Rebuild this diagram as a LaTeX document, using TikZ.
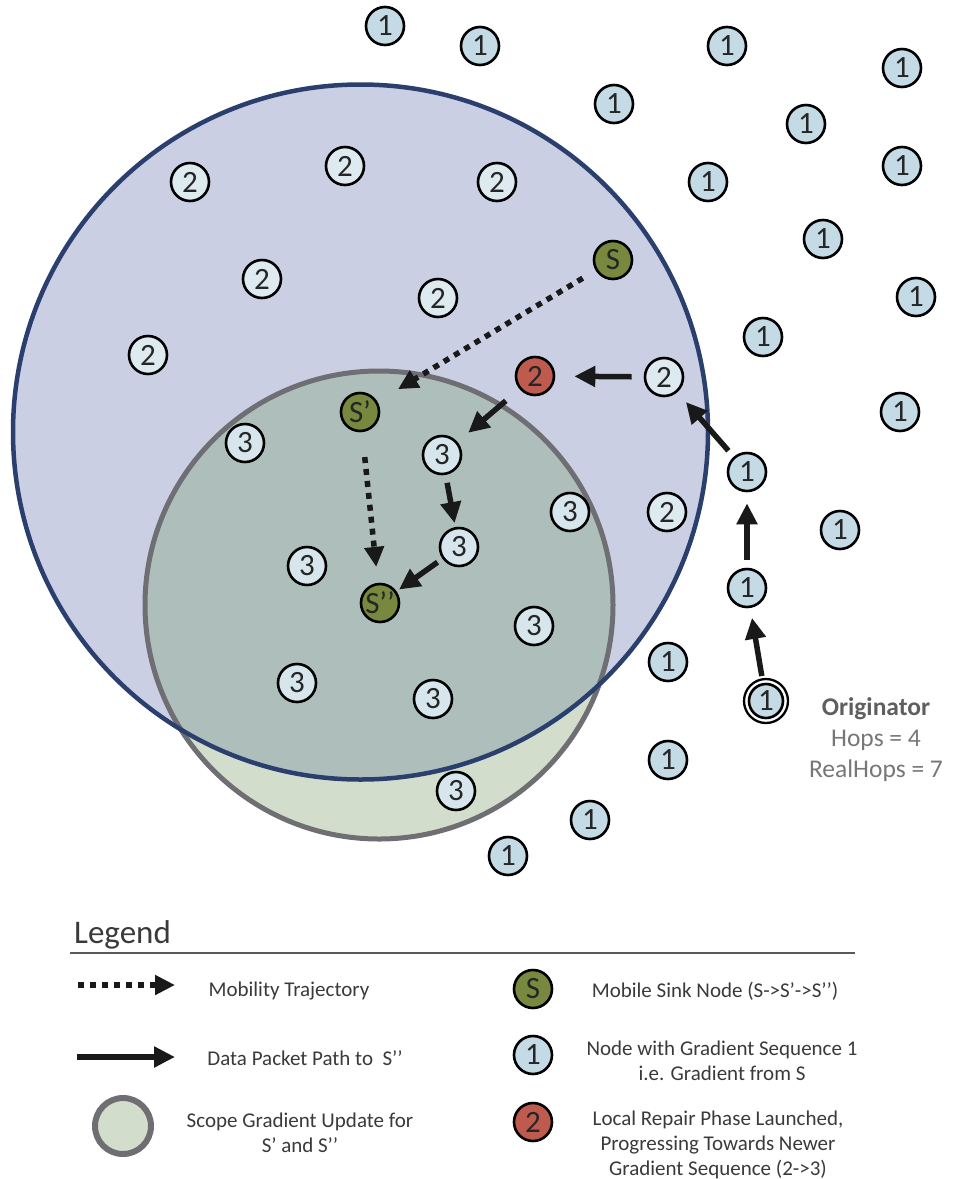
\documentclass[tikz,border=0pt]{standalone}
\usepackage{fontspec}
\setmainfont{Carlito}
\usetikzlibrary{arrows.meta}

\definecolor{bluezone}{HTML}{CACFE3}
\definecolor{bluerim}{HTML}{2B3F6E}
\definecolor{greenzone}{HTML}{D3DDCB}
\definecolor{overlapzone}{HTML}{ADBEBB}
\definecolor{greyrim}{HTML}{6E6E73}
\definecolor{nodeone}{HTML}{C4DAE4}
\definecolor{nodetwo}{HTML}{DDEAF0}
\definecolor{nodethree}{HTML}{D6E6EC}
\definecolor{sinkgreen}{HTML}{78893F}
\definecolor{repairred}{HTML}{BF5B4E}
\definecolor{labelgrey}{HTML}{5F5F5F}
\definecolor{labellight}{HTML}{777777}
\definecolor{legendtext}{HTML}{3A3A3A}

\begin{document}
\begin{tikzpicture}[x=1pt,y=-1pt,
  gnode/.style={circle, draw=black, line width=2.6pt, minimum size=38pt, inner sep=0pt,
    font=\fontsize{31}{31}\selectfont, text=black!85},
  one/.style={gnode, fill=nodeone},
  two/.style={gnode, fill=nodetwo},
  three/.style={gnode, fill=nodethree},
  sink/.style={gnode, fill=sinkgreen},
  repair/.style={gnode, fill=repairred},
  datapath/.style={draw=black!90, line width=5.5pt, -{Triangle[length=21pt,width=20pt]}},
  trajectory/.style={draw=black!90, line width=5.5pt, dash pattern=on 6pt off 6pt,
    -{Triangle[length=20pt,width=19pt]}},
  origlabel/.style={font=\fontsize{25.5}{25.5}\selectfont, inner sep=0pt},
  legendlabel/.style={font=\fontsize{21}{25}\selectfont, text=legendtext, align=center, inner sep=0pt},
]
\useasboundingbox (0,0) rectangle (954,1179);
\fill[white] (0,0) rectangle (954,1179);

% gradient scopes
\coordinate (bigc) at (360.5,432);
\coordinate (smallc) at (379,605);
\fill[bluezone] (bigc) circle[radius=347.5pt];
\fill[greenzone] (smallc) circle[radius=234pt];
\begin{scope}
  \clip (bigc) circle[radius=347.5pt];
  \fill[overlapzone] (smallc) circle[radius=234pt];
\end{scope}
\draw[greyrim, line width=5pt] (smallc) circle[radius=234pt];
\draw[bluerim, line width=4.5pt] (bigc) circle[radius=347.5pt];

% nodes with gradient sequence 1
\node[one] (o1)  at (385,26)  {1};
\node[one] (o2)  at (480,46)  {1};
\node[one] (o3)  at (727,46)  {1};
\node[one] (o4)  at (902,68)  {1};
\node[one] (o5)  at (614,104) {1};
\node[one] (o6)  at (806,124) {1};
\node[one] (o7)  at (902,166) {1};
\node[one] (o8)  at (708,182) {1};
\node[one] (o9)  at (823,239) {1};
\node[one] (o10) at (916,297) {1};
\node[one] (o11) at (763,337) {1};
\node[one] (o12) at (900,412) {1};
\node[one] (o13) at (747,472) {1};
\node[one] (o14) at (840,530) {1};
\node[one] (o15) at (747,588) {1};
\node[one] (o16) at (668,662) {1};
\node[one] (o17) at (668,760) {1};
\node[one] (o18) at (590,820) {1};
\node[one] (o19) at (508,856) {1};
\node[one, minimum size=34pt] (orig) at (766,701) {1};
\draw[black, line width=2.3pt] (orig.center) circle[radius=22pt];

% nodes with gradient sequence 2
\node[two] (t1) at (190,182) {2};
\node[two] (t2) at (345,166) {2};
\node[two] (t3) at (497,182) {2};
\node[two] (t4) at (262,279) {2};
\node[two] (t5) at (438,298) {2};
\node[two] (t6) at (148,355) {2};
\node[two] (t7) at (664,377) {2};
\node[two] (t8) at (667,512) {2};
\node[repair] (rp) at (535,376) {2};

% nodes with gradient sequence 3
\node[three] (h1) at (245,443) {3};
\node[three] (h2) at (442,455) {3};
\node[three] (h3) at (459,547) {3};
\node[three] (h4) at (570,512) {3};
\node[three] (h5) at (307,566) {3};
\node[three] (h6) at (534,626) {3};
\node[three] (h7) at (297,683) {3};
\node[three] (h8) at (433,699) {3};
\node[three] (h9) at (456,791) {3};

% mobile sink positions
\node[sink] (s0) at (613,260) {S};
\node[sink] (s1) at (360,412) {S’};
\node[sink] (s2) at (380,603) {S’’};

% sink trajectory
\draw[trajectory, shorten <=15pt, shorten >=24pt] (s0) -- (s1);
\draw[trajectory, shorten <=25pt, shorten >=16pt] (s1) -- (s2);

% data packet path
\draw[datapath, shorten <=7pt, shorten >=10pt] (orig) -- (o15);
\draw[datapath, shorten <=8pt, shorten >=11pt] (o15) -- (o13);
\draw[datapath, shorten <=8pt, shorten >=13pt] (o13) -- (t7);
\draw[datapath, shorten <=12pt, shorten >=19pt] (t7) -- (rp);
\draw[datapath, shorten <=18pt, shorten >=14pt] (rp) -- (h2);
\draw[datapath, shorten <=8pt, shorten >=4pt] (h2) -- (h3);
\draw[datapath, shorten <=6pt, shorten >=3pt] (h3) -- (s2);

% originator annotation
\node[origlabel, anchor=base, text=labelgrey] (origtitle) at (876,715) {\bfseries Originator};
\node[origlabel, anchor=base, text=labellight] (orighops) at (876,746) {Hops = 4};
\node[origlabel, anchor=base, text=labellight] (origreal) at (876,777) {RealHops = 7};

% legend
\node[anchor=base west, inner sep=0pt, font=\fontsize{33}{33}\selectfont, text=legendtext] (legtitle) at (74,943) {Legend};
\coordinate (ruleA) at (70,953);
\coordinate (ruleB) at (855,953);
\draw[black!65, line width=2.5pt] (ruleA) -- (ruleB);

\coordinate (ltrajA) at (78,985);
\coordinate (ltrajB) at (175,985);
\draw[trajectory] (ltrajA) -- (ltrajB);
\node[legendlabel] (ltrajtext) at (289,991) {Mobility Trajectory};

\coordinate (lpathA) at (77,1057);
\coordinate (lpathB) at (175,1057);
\draw[datapath, line width=6pt] (lpathA) -- (lpathB);
\node[legendlabel] (lpathtext) at (305,1058) {Data Packet Path to\ \ S’’};

\coordinate (lscope) at (123,1126);
\draw[greyrim, fill=greenzone, line width=6pt] (lscope) circle[radius=28pt];
\node[legendlabel] (lscopetext) at (300,1133) {Scope Gradient Update for\\S’ and S’’};

\node[sink] (lsink) at (533,989) {S};
\node[legendlabel] (lsinktext) at (715,991) {Mobile Sink Node (S->S’->S’’)};

\node[one] (lone) at (533,1055) {1};
\node[legendlabel] (lonetext) at (722,1061) {Node with Gradient Sequence 1\\i.e. Gradient from S};

\node[repair] (lrep) at (533,1122) {2};
\node[legendlabel] (lreptext) at (718,1145) {Local Repair Phase Launched,\\Progressing Towards Newer\\Gradient Sequence (2->3)};
\end{tikzpicture}
\end{document}
